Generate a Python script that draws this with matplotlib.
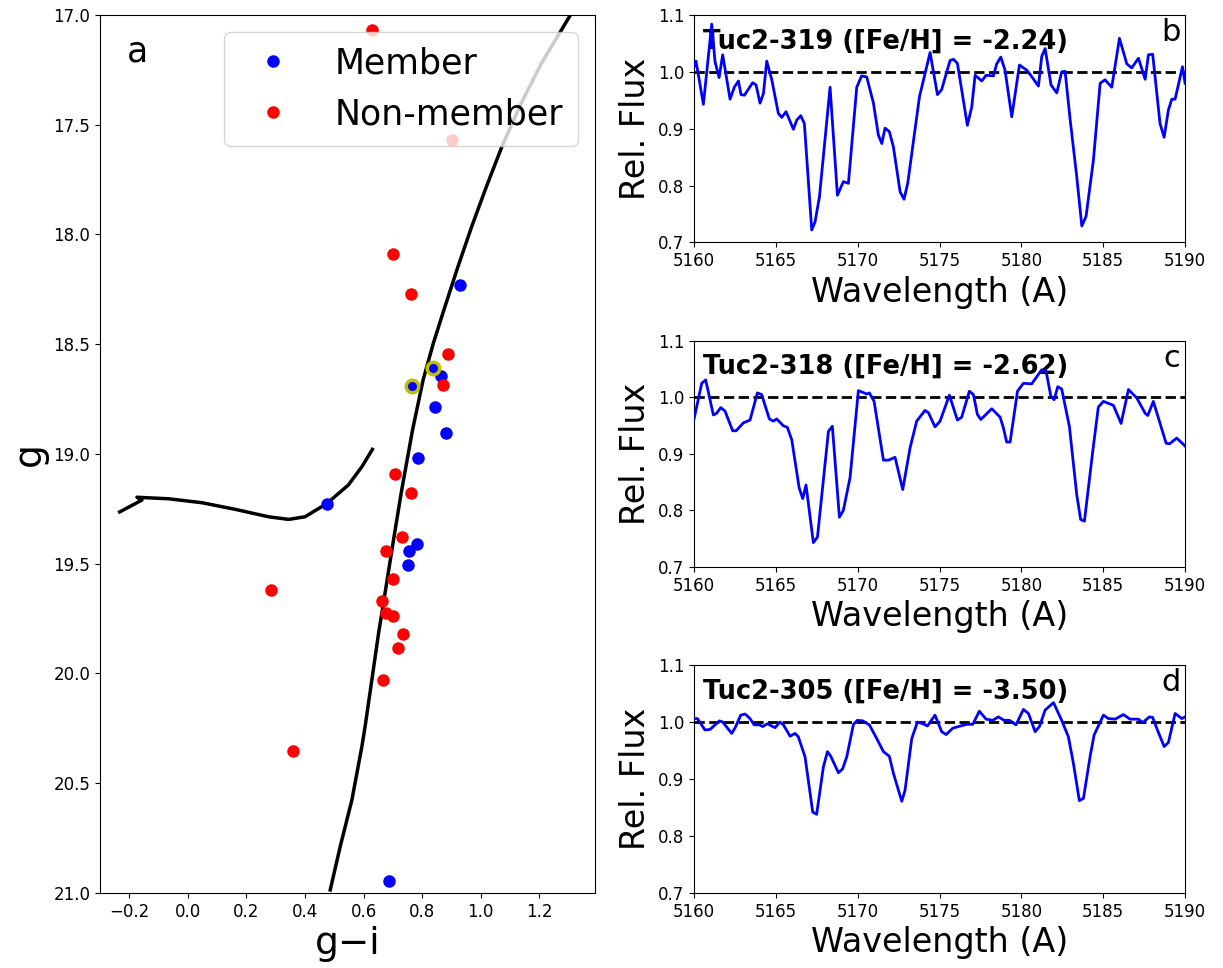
import matplotlib
matplotlib.use("Agg")
import matplotlib.pyplot as plt
import numpy as np

# ---- CMD data ----
mem_gi = [0.928, 0.863, 0.843, 0.881, 0.785, 0.474, 0.782, 0.754, 0.751, 0.686]
mem_g = [18.23, 18.645, 18.786, 18.904, 19.018, 19.228, 19.41, 19.44, 19.506, 20.945]
ring_gi = [0.836, 0.765]
ring_g = [18.608, 18.69]
non_gi = [0.628, 0.901, 0.700, 0.761, 0.887, 0.870, 0.706, 0.761, 0.730, 0.676,
          0.700, 0.662, 0.676, 0.700, 0.734, 0.717, 0.666, 0.283, 0.358]
non_g = [17.068, 17.57, 18.089, 18.27, 18.544, 18.686, 19.091, 19.178, 19.378, 19.442,
         19.57, 19.67, 19.724, 19.738, 19.82, 19.884, 20.03, 19.62, 20.353]
rgb_gi = [0.486, 0.520, 0.560, 0.594, 0.605, 0.628, 0.651, 0.673, 0.702, 0.730,
          0.767, 0.803, 0.838, 0.874, 0.922, 0.969, 1.015, 1.072, 1.138, 1.207,
          1.272, 1.306]
rgb_g = [20.986, 20.789, 20.576, 20.333, 20.242, 20.03, 19.817, 19.635, 19.392, 19.164,
         18.891, 18.663, 18.496, 18.344, 18.147, 17.964, 17.797, 17.60, 17.402, 17.22,
         17.076, 17.0]
hb_gi = [-0.233, -0.157, -0.174, -0.146, -0.066, 0.048, 0.161, 0.275, 0.344, 0.40,
         0.474, 0.548, 0.594, 0.630]
hb_g = [19.264, 19.21, 19.197, 19.199, 19.204, 19.222, 19.252, 19.286, 19.298, 19.286,
        19.226, 19.141, 19.058, 18.979]

# ---- spectra ----
wave_b = [5160.0, 5160.12, 5160.57, 5161.08, 5161.28, 5161.53, 5161.75, 5162.20, 5162.46, 5162.71,
          5162.87, 5163.08, 5163.58, 5163.79, 5164.03, 5164.24, 5164.44, 5164.75, 5165.15, 5165.36,
          5165.62, 5166.07, 5166.27, 5166.52, 5166.74, 5167.19, 5167.39, 5167.66, 5168.31, 5168.76,
          5169.12, 5169.43, 5169.94, 5170.24, 5170.55, 5170.96, 5171.26, 5171.47, 5171.67, 5171.93,
          5172.18, 5172.59, 5172.83, 5173.06, 5173.77, 5174.42, 5174.87, 5175.13, 5175.64, 5175.85,
          5176.09, 5176.70, 5176.97, 5177.17, 5177.58, 5177.84, 5178.29, 5178.49, 5178.74, 5179.00,
          5179.41, 5179.88, 5180.33, 5180.57, 5181.04, 5181.24, 5181.45, 5181.81, 5182.16, 5182.46,
          5182.67, 5182.97, 5183.38, 5183.69, 5183.95, 5184.40, 5184.81, 5185.11, 5185.52, 5185.99,
          5186.44, 5186.74, 5187.15, 5187.56, 5187.76, 5188.02, 5188.47, 5188.72, 5188.98, 5189.19,
          5189.39, 5189.84, 5190.0]
flux_b = [1.009, 1.019, 0.943, 1.084, 1.018, 0.990, 1.030, 0.952, 0.973, 0.984,
          0.960, 0.959, 0.981, 0.977, 0.945, 0.962, 1.019, 0.986, 0.927, 0.920,
          0.930, 0.899, 0.915, 0.923, 0.909, 0.722, 0.736, 0.780, 0.973, 0.783,
          0.807, 0.804, 0.973, 0.993, 0.991, 0.945, 0.889, 0.874, 0.901, 0.895,
          0.868, 0.789, 0.776, 0.805, 0.956, 1.034, 0.960, 0.969, 1.020, 1.022,
          1.015, 0.906, 0.939, 0.994, 0.984, 0.994, 0.993, 1.014, 1.026, 1.003,
          0.921, 1.012, 1.003, 0.994, 0.975, 1.027, 1.041, 0.977, 0.963, 1.000,
          1.001, 0.918, 0.816, 0.729, 0.746, 0.845, 0.980, 0.986, 0.973, 1.059,
          1.014, 1.007, 1.024, 0.987, 1.030, 1.031, 0.909, 0.885, 0.933, 0.952,
          0.952, 1.009, 0.980]

wave_c = [5160.0, 5160.47, 5160.71, 5161.18, 5161.38, 5161.63, 5161.89, 5162.36, 5162.57, 5163.01,
          5163.42, 5163.87, 5164.13, 5164.60, 5164.84, 5165.05, 5165.45, 5165.70, 5165.97, 5166.42,
          5166.64, 5166.84, 5167.29, 5167.54, 5168.21, 5168.45, 5168.88, 5169.12, 5169.53, 5170.04,
          5170.31, 5170.55, 5170.71, 5171.0, 5171.57, 5171.87, 5172.28, 5172.75, 5173.20, 5173.60,
          5174.11, 5174.32, 5174.72, 5175.03, 5175.60, 5176.09, 5176.35, 5176.82, 5177.07, 5177.31,
          5177.52, 5178.19, 5178.70, 5178.90, 5179.10, 5179.31, 5179.76, 5180.12, 5180.63, 5181.24,
          5181.51, 5181.80, 5182.00, 5182.22, 5182.46, 5182.93, 5183.38, 5183.62, 5183.85, 5184.36,
          5184.70, 5185.01, 5185.62, 5186.09, 5186.54, 5187.05, 5187.56, 5187.72, 5188.06, 5188.84,
          5189.05, 5189.49, 5190.0]
flux_c = [0.962, 1.025, 1.031, 0.969, 0.972, 0.982, 0.976, 0.941, 0.941, 0.955,
          0.960, 1.008, 1.005, 0.962, 0.958, 0.962, 0.950, 0.947, 0.925, 0.840,
          0.821, 0.845, 0.743, 0.753, 0.940, 0.949, 0.788, 0.800, 0.858, 1.012,
          1.009, 1.006, 1.008, 0.993, 0.889, 0.889, 0.894, 0.837, 0.911, 0.958,
          0.977, 0.973, 0.948, 0.958, 1.004, 0.960, 0.965, 1.011, 1.005, 0.970,
          0.961, 0.980, 0.965, 0.946, 0.921, 0.921, 1.011, 1.025, 1.024, 1.049,
          1.046, 1.002, 0.996, 1.019, 1.015, 0.949, 0.828, 0.784, 0.781, 0.905,
          0.983, 0.993, 0.986, 0.954, 1.014, 0.999, 0.972, 0.968, 0.993, 0.919,
          0.918, 0.928, 0.914]

wave_d = [5160.0, 5160.20, 5160.67, 5160.98, 5161.55, 5161.75, 5162.30, 5162.51, 5162.85, 5163.12,
          5163.42, 5163.67, 5163.99, 5164.20, 5164.48, 5164.95, 5165.25, 5165.46, 5165.87, 5166.17,
          5166.37, 5166.78, 5167.25, 5167.49, 5167.90, 5168.15, 5168.35, 5168.82, 5169.08, 5169.33,
          5169.74, 5169.98, 5170.31, 5170.71, 5171.16, 5171.57, 5171.93, 5172.18, 5172.49, 5172.69,
          5172.89, 5173.30, 5173.65, 5173.97, 5174.26, 5174.72, 5175.13, 5175.40, 5175.80, 5176.15,
          5176.66, 5177.03, 5177.43, 5177.84, 5178.25, 5178.59, 5178.94, 5179.27, 5179.67, 5180.12,
          5180.43, 5180.84, 5181.10, 5181.45, 5181.96, 5182.46, 5182.87, 5183.18, 5183.54, 5183.79,
          5184.20, 5184.44, 5185.01, 5185.32, 5185.72, 5186.23, 5186.64, 5187.15, 5187.41, 5187.82,
          5188.02, 5188.31, 5188.72, 5188.98, 5189.39, 5189.80, 5190.0]
flux_d = [1.006, 1.006, 0.986, 0.987, 1.002, 1.000, 0.980, 0.990, 1.012, 1.014,
          1.006, 0.995, 0.995, 0.992, 0.997, 0.990, 1.000, 0.995, 0.975, 0.980,
          0.974, 0.939, 0.842, 0.838, 0.921, 0.948, 0.940, 0.911, 0.918, 0.939,
          0.996, 1.003, 1.002, 0.995, 0.971, 0.948, 0.940, 0.910, 0.880, 0.861,
          0.880, 0.971, 1.000, 0.997, 0.993, 1.012, 0.983, 0.978, 0.989, 0.992,
          0.996, 0.996, 1.019, 1.005, 1.003, 1.009, 1.003, 1.003, 0.995, 1.022,
          1.015, 0.983, 0.992, 1.021, 1.034, 1.003, 0.974, 0.927, 0.862, 0.866,
          0.940, 0.977, 1.012, 1.006, 1.005, 1.013, 1.005, 1.005, 0.999, 1.009,
          1.008, 0.986, 0.957, 0.964, 1.015, 1.006, 1.009]

spec_titles = ["Tuc2-319 ([Fe/H] = -2.24)", "Tuc2-318 ([Fe/H] = -2.62)", "Tuc2-305 ([Fe/H] = -3.50)"]
spec_letters = ["b", "c", "d"]
xticks_cmd = [-0.2, 0.0, 0.2, 0.4, 0.6, 0.8, 1.0, 1.2]
yticks_cmd = [17.0, 17.5, 18.0, 18.5, 19.0, 19.5, 20.0, 20.5, 21.0]
xticks_spec = [5160, 5165, 5170, 5175, 5180, 5185, 5190]
yticks_spec = [0.7, 0.8, 0.9, 1.0, 1.1]

plt.rcParams['font.family'] = ['DejaVu Sans']
plt.rcParams['xtick.labelsize'] = 12
plt.rcParams['ytick.labelsize'] = 12

fig = plt.figure(figsize=(12.23, 9.68), dpi=100)

# ---- panel a ----
ax = fig.add_axes([0.0818, 0.0775, 0.4047, 0.907])
ax.plot(rgb_gi, rgb_g, color='k', lw=2.5, zorder=2)
ax.plot(hb_gi, hb_g, color='k', lw=2.5, zorder=2)
ax.plot(mem_gi + ring_gi, mem_g + ring_g, 'o', color='b', ms=9, mec='none', label='Member', zorder=3)
ax.plot(non_gi, non_g, 'o', color='r', ms=9, mec='none', label='Non-member', zorder=3)
ax.plot(ring_gi, ring_g, 'o', mfc='b', mec='y', mew=2.5, ms=9, zorder=4)
ax.set_xlim(-0.3, 1.39)
ax.set_ylim(21.0, 17.0)
ax.set_xticks(xticks_cmd)
ax.set_yticks(yticks_cmd)
ax.set_xticklabels(["\u22120.2" if t < 0 else f"{t:.1f}" for t in xticks_cmd])
ax.set_yticklabels([f"{t:.1f}" for t in yticks_cmd])
ax.set_xlabel("g\u2212i", fontsize=27)
ax.set_ylabel("g", fontsize=27)
ax.text(0.055, 0.978, "a", transform=ax.transAxes, fontsize=25, va='top', ha='left')
leg = ax.legend(loc='upper right', fontsize=25, numpoints=1)
leg.set_zorder(5)

# ---- spectra panels ----
bottoms = [0.7495, 0.4143, 0.0775]
heights = [0.235, 0.2335, 0.2355]
waves = [wave_b, wave_c, wave_d]
fluxes = [flux_b, flux_c, flux_d]
for i in range(3):
    axs = fig.add_axes([0.5675, bottoms[i], 0.4015, heights[i]])
    axs.plot(waves[i], fluxes[i], color='b', lw=2, zorder=3)
    axs.axhline(1.0, color='k', ls='--', lw=2, zorder=2)
    axs.set_xlim(5160, 5190)
    axs.set_ylim(0.7, 1.1)
    axs.set_xticks(xticks_spec)
    axs.set_yticks(yticks_spec)
    axs.set_yticklabels([f"{t:.1f}" for t in yticks_spec])
    axs.set_xlabel("Wavelength (A)", fontsize=24)
    axs.set_ylabel("Rel. Flux", fontsize=24)
    axs.text(0.018, 0.885, spec_titles[i], transform=axs.transAxes, fontsize=18.5,
             fontweight='bold', va='center', ha='left', zorder=1)
    axs.text(0.99, 0.985, spec_letters[i], transform=axs.transAxes, fontsize=22,
             va='top', ha='right')

fig.savefig("out.png", dpi=100)
